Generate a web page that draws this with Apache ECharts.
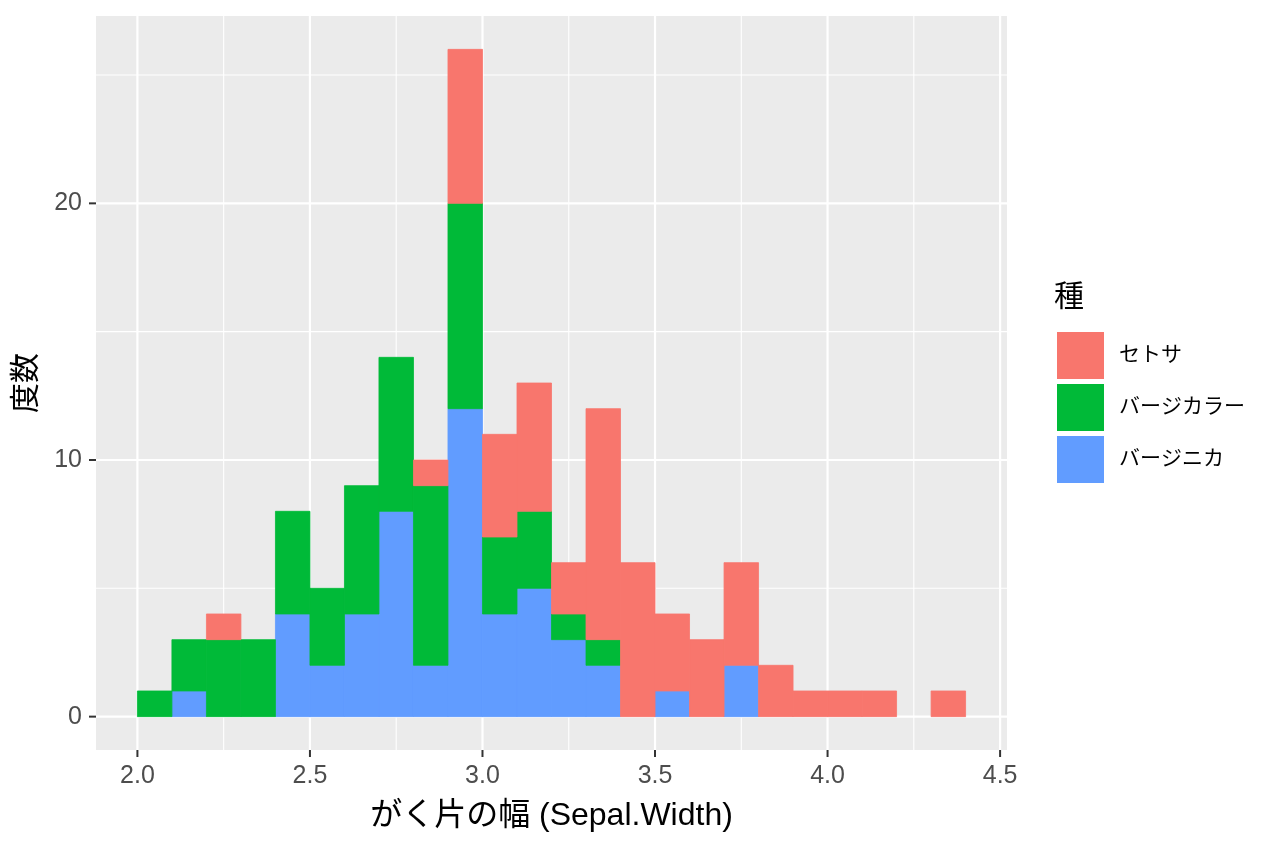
<!DOCTYPE html>
<html>
<head>
<meta charset="utf-8">
<script src="https://cdn.jsdelivr.net/npm/echarts@6/dist/echarts.min.js"></script>
<style>html,body{margin:0;padding:0;background:#fff;}#c{width:1264px;height:848px;}</style>
</head>
<body>
<div id="c"></div>
<script>
// bin left edges (binwidth 0.1)
var binLeft = [2.0,2.1,2.2,2.3,2.4,2.5,2.6,2.7,2.8,2.9,3.0,3.1,3.2,3.3,3.4,3.5,3.6,3.7,3.8,3.9,4.0,4.1,4.2,4.3];
var binWidth = 0.1;
var setosa     = [0,0,1,0,0,0,0,0,1,6,4,5,2,9,6,3,3,4,2,1,1,1,0,1];
var versicolor = [1,2,3,3,4,3,5,6,7,8,3,3,1,1,0,0,0,0,0,0,0,0,0,0];
var virginica  = [0,1,0,0,4,2,4,8,2,12,4,5,3,2,0,1,0,2,0,0,0,0,0,0];
var seriesNames = ['セトサ','バージカラー','バージニカ'];
var xTicks = [2.0,2.5,3.0,3.5,4.0,4.5];
var xMinor = [2.25,2.75,3.25,3.75,4.25];
var yTicks = [0,10,20];
var yMinor = [5,15,25];
var colors = {'セトサ':'#F8766D','バージカラー':'#00BA38','バージニカ':'#619CFF'};

var X_MIN = 1.88, X_MAX = 4.52, Y_MIN = -1.3, Y_MAX = 27.3;

// stacking order bottom→top: virginica, versicolor, setosa
var stackOrder = [['バージニカ',virginica],['バージカラー',versicolor],['セトサ',setosa]];
var base = binLeft.map(function(){return 0;});
var barSeries = stackOrder.map(function(p, k){
  var data = [];
  for (var i=0;i<binLeft.length;i++){
    var v = p[1][i];
    if (v>0) data.push([binLeft[i], binLeft[i]+binWidth, base[i], base[i]+v]);
    base[i] += v;
  }
  return {
    name: p[0], type:'custom', z: 5 + k,
    itemStyle:{color: colors[p[0]]},
    encode:{x:[0,1], y:[2,3]},
    renderItem: function(params, api){
      var a = api.coord([api.value(0), api.value(2)]);
      var b = api.coord([api.value(1), api.value(3)]);
      return {type:'rect', shape:{x:a[0], y:b[1], width:b[0]-a[0], height:a[1]-b[1]},
        style:{fill: colors[p[0]], stroke: colors[p[0]], lineWidth:0.8}};
    },
    data: data
  };
});

function gridSeries(vals, dir, width){
  return {
    type:'custom', silent:true, z:1, legendHoverLink:false,
    renderItem:function(params, api){
      var v = api.value(0), p1, p2;
      if (dir==='x'){ p1=api.coord([v,Y_MIN]); p2=api.coord([v,Y_MAX]); }
      else { p1=api.coord([X_MIN,v]); p2=api.coord([X_MAX,v]); }
      return {type:'line', shape:{x1:p1[0],y1:p1[1],x2:p2[0],y2:p2[1]}, style:{stroke:'#fff', lineWidth:width}};
    },
    encode: dir==='x'?{x:0}:{y:0},
    data: vals.map(function(v){return [v];})
  };
}
function tickSeries(vals, dir){
  return {
    type:'custom', silent:true, z:10, clip:false, legendHoverLink:false,
    renderItem:function(params, api){
      var v = api.value(0), p;
      if (dir==='x'){ p=api.coord([v,Y_MIN]); return {type:'line', shape:{x1:p[0],y1:p[1],x2:p[0],y2:p[1]+7}, style:{stroke:'#333', lineWidth:2}}; }
      p=api.coord([X_MIN,v]); return {type:'line', shape:{x1:p[0]-7,y1:p[1],x2:p[0],y2:p[1]}, style:{stroke:'#333', lineWidth:2}};
    },
    encode: dir==='x'?{x:0}:{y:0},
    data: vals.map(function(v){return [v];})
  };
}

var chart = echarts.init(document.getElementById('c'));
var font = 'Liberation Sans, Arial, Noto Sans CJK JP, sans-serif';
chart.setOption({
  backgroundColor:'#fff',
  animation:false,
  textStyle:{fontFamily:font},
  grid:{left:96, top:16, width:911, height:734, show:true, backgroundColor:'#EBEBEB', borderWidth:0},
  xAxis:{type:'value', min:X_MIN, max:X_MAX,
    name:'がく片の幅 (Sepal.Width)', nameLocation:'middle', nameGap:50,
    nameTextStyle:{fontSize:32, color:'#000', fontFamily:font},
    axisLine:{show:false, onZero:false}, splitLine:{show:false},
    axisTick:{show:false},
    axisLabel:{customValues:xTicks, formatter:function(v){return v.toFixed(1);}, color:'#4D4D4D', fontSize:25, margin:14, fontFamily:font}
  },
  yAxis:{type:'value', min:Y_MIN, max:Y_MAX,
    name:'度数', nameLocation:'middle', nameGap:54,
    nameTextStyle:{fontSize:30, color:'#000', fontFamily:font},
    axisLine:{show:false, onZero:false}, splitLine:{show:false},
    axisTick:{show:false},
    axisLabel:{customValues:yTicks, color:'#4D4D4D', fontSize:25, margin:14, fontFamily:font}
  },
  legend:{data:seriesNames, orient:'vertical', left:1057, top:332, itemWidth:47, itemHeight:47, itemGap:5,
    icon:'rect', padding:0, textStyle:{fontSize:21, color:'#000', padding:[0,0,0,10], fontFamily:font}, selectedMode:false},
  graphic:[{type:'text', left:1054, top:283, style:{text:'種', fontSize:30, fill:'#000', fontFamily:font}}],
  series:[gridSeries(xMinor,'x',1.1), gridSeries(yMinor,'y',1.1), gridSeries(xTicks,'x',2.2), gridSeries(yTicks,'y',2.2),
          tickSeries(xTicks,'x'), tickSeries(yTicks,'y')].concat(barSeries)
});
</script>
</body>
</html>
